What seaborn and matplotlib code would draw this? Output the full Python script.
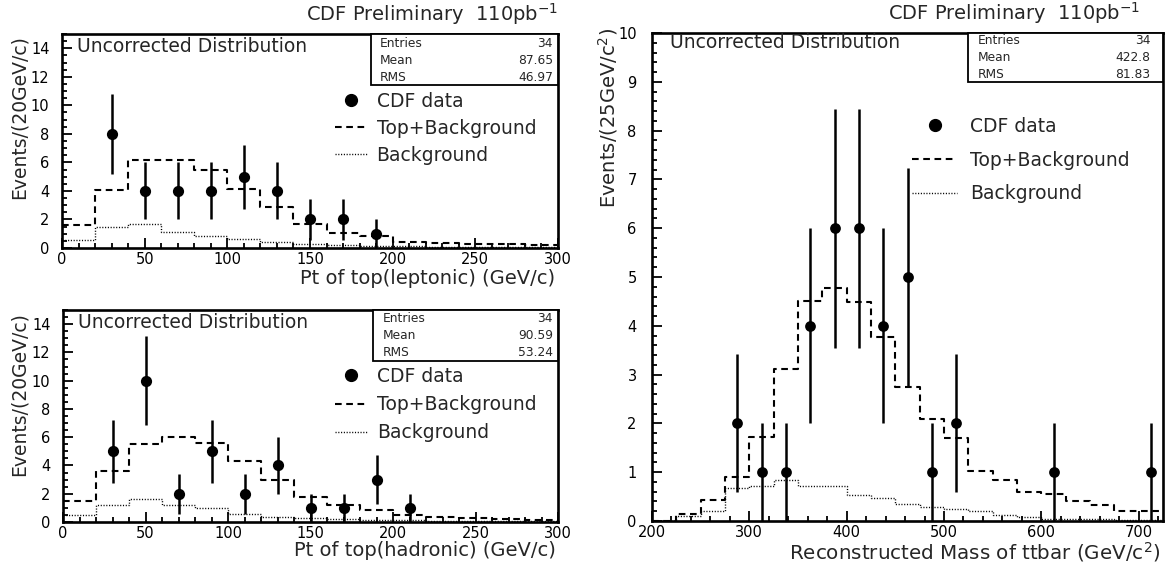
import numpy as np
import pandas as pd
import matplotlib
matplotlib.use("Agg")
import matplotlib.pyplot as plt
from matplotlib.lines import Line2D
from matplotlib.patches import Rectangle
from matplotlib.ticker import MultipleLocator
import seaborn as sns

# ---- Pt of top, leptonic side (20 GeV/c bins from 0 to 300) ----
pt_edges = list(range(0, 320, 20))
lep_centers = [30, 50, 70, 90, 110, 130, 150, 170, 190]
lep_counts = [8, 4, 4, 4, 5, 4, 2, 2, 1]
lep_total = [1.6, 4.05, 6.15, 6.15, 5.45, 4.15, 2.9, 1.65, 1.05, 0.85,
             0.4, 0.35, 0.3, 0.25, 0.2]
lep_bkg = [0.55, 1.45, 1.65, 1.15, 0.85, 0.6, 0.4, 0.28, 0.2, 0.15,
           0.12, 0.1, 0.08, 0.06, 0.05]
lep_stats = ["34", "87.65", "46.97"]

# ---- Pt of top, hadronic side ----
had_centers = [30, 50, 70, 90, 110, 130, 150, 170, 190, 210]
had_counts = [5, 10, 2, 5, 2, 4, 1, 1, 3, 1]
had_total = [1.5, 3.6, 5.55, 6.0, 5.6, 4.35, 3.0, 1.8, 1.2, 0.82,
             0.5, 0.35, 0.28, 0.2, 0.15]
had_bkg = [0.47, 1.18, 1.6, 1.22, 1.0, 0.6, 0.35, 0.25, 0.2, 0.15,
           0.12, 0.1, 0.08, 0.06, 0.05]
had_stats = ["34", "90.59", "53.24"]

# ---- Reconstructed ttbar mass (25 GeV/c^2 bins from 200 to 725) ----
mass_edges = list(range(200, 750, 25))
mass_centers = [287.5, 312.5, 337.5, 362.5, 387.5, 412.5, 437.5, 462.5,
                487.5, 512.5, 612.5, 712.5]
mass_counts = [2, 1, 1, 4, 6, 6, 4, 5, 1, 2, 1, 1]
mass_total = [0.0, 0.15, 0.43, 0.9, 1.73, 3.12, 4.5, 4.77, 4.48, 3.77, 2.75,
              2.1, 1.7, 1.03, 0.85, 0.6, 0.55, 0.4, 0.33, 0.2, 0.2]
mass_bkg = [0.0, 0.1, 0.2, 0.68, 0.72, 0.84, 0.71, 0.72, 0.54, 0.48, 0.35,
            0.28, 0.25, 0.2, 0.12, 0.08, 0.05, 0.05, 0.04, 0.03, 0.03]
mass_stats = ["34", "422.8", "81.83"]

stat_names = ["Entries", "Mean", "RMS"]
legend_labels = ["CDF data", "Top+Background", "Background"]

sns.set_theme(style="ticks")
plt.rcParams["font.family"] = ["DejaVu Sans"]
plt.rcParams["mathtext.fontset"] = "dejavusans"

DASH = (0, (3.2, 2.2))
DOT = (0, (0.8, 1.2))
FS = 13.5

fig = plt.figure(figsize=(11.65, 5.67), dpi=100)
W, H = 1165, 567


def axes_px(x0, y0, x1, y1):
    return fig.add_axes([x0 / W, 1 - y1 / H, (x1 - x0) / W, (y1 - y0) / H])


ax_lep = axes_px(62, 34, 558, 248)
ax_had = axes_px(63, 310, 558, 522)
ax_mass = axes_px(652, 33, 1163, 521)


def draw_hist(ax, edges, total, bkg, centers, counts, msize):
    e = np.asarray(edges, dtype=float)
    mids = (e[:-1] + e[1:]) / 2
    frame = pd.DataFrame({"mid": mids, "total": total, "bkg": bkg})
    sns.histplot(data=frame, x="mid", weights="total", bins=edges,
                 element="step", fill=False, color="black", linestyle=DASH,
                 linewidth=1.5, ax=ax)
    sns.histplot(data=frame, x="mid", weights="bkg", bins=edges,
                 element="step", fill=False, color="black", linestyle=DOT,
                 linewidth=1.0, ax=ax)
    counts = np.asarray(counts, dtype=float)
    ax.errorbar(centers, counts, yerr=np.sqrt(counts), fmt="none",
                ecolor="black", elinewidth=1.8, capsize=0, zorder=3)
    sns.scatterplot(x=centers, y=counts, s=msize, color="black",
                    edgecolor="black", linewidth=0, ax=ax, zorder=4)


def style_axes(ax, xlim, ylim, xmaj, xmin, ymaj, ymin, ypad):
    ax.set_xlim(*xlim)
    ax.set_ylim(*ylim)
    ax.xaxis.set_major_locator(MultipleLocator(xmaj))
    ax.xaxis.set_minor_locator(MultipleLocator(xmin))
    ax.yaxis.set_major_locator(MultipleLocator(ymaj))
    ax.yaxis.set_minor_locator(MultipleLocator(ymin))
    ax.tick_params(which="both", direction="in", top=False, right=False,
                   colors="black", labelsize=10.5, width=1.3)
    ax.tick_params(which="major", length=7)
    ax.tick_params(which="minor", length=3.5)
    ax.tick_params(axis="x", pad=3)
    ax.tick_params(axis="y", pad=ypad)
    for sp in ax.spines.values():
        sp.set_visible(True)
        sp.set_linewidth(1.9)
        sp.set_color("black")
    ax.set_facecolor("white")


def stats_box(ax, x0, y0, values, fs, lx, rx, rows):
    ax.add_patch(Rectangle((x0, y0), 1 - x0, 1 - y0, transform=ax.transAxes,
                           facecolor="white", edgecolor="black", lw=1.3,
                           zorder=5, clip_on=False))
    for name, val, yy in zip(stat_names, values, rows):
        ax.text(lx, yy, name, transform=ax.transAxes, fontsize=fs,
                ha="left", va="center", zorder=6)
        ax.text(rx, yy, val, transform=ax.transAxes, fontsize=fs,
                ha="right", va="center", zorder=6)


def add_legend(ax, anchor, fs, hlen, tpad, spacing, msize):
    handles = [
        Line2D([], [], marker="o", ls="none", color="black", markersize=msize),
        Line2D([], [], ls=DASH, color="black", lw=1.5),
        Line2D([], [], ls=DOT, color="black", lw=1.0),
    ]
    ax.legend(handles, legend_labels, loc="upper left", bbox_to_anchor=anchor,
              frameon=False, fontsize=fs, handlelength=hlen,
              handletextpad=tpad, labelspacing=spacing, borderpad=0,
              borderaxespad=0)


# Leptonic Pt panel
draw_hist(ax_lep, pt_edges, lep_total, lep_bkg, lep_centers, lep_counts, 65)
style_axes(ax_lep, (0, 300), (0, 15), 50, 10, 2, 0.5, 9)
ax_lep.text(0.03, 0.94, "Uncorrected Distribution", transform=ax_lep.transAxes,
            fontsize=FS, ha="left", va="center")
stats_box(ax_lep, 0.622, 0.76, lep_stats, 8.8, 0.64, 0.99, [0.955, 0.875, 0.795])
add_legend(ax_lep, (0.55, 0.731), FS, 1.7, 0.53, 0.43, 8.5)
ax_lep.set_xlabel("Pt of top(leptonic) (GeV/c)", fontsize=14, loc="right")
ax_lep.set_ylabel("Events/(20GeV/c)", fontsize=FS, loc="top")
ax_lep.xaxis.set_label_coords(0.995, -0.098)
ax_lep.yaxis.set_label_coords(-0.068, 0.995)

# Hadronic Pt panel
draw_hist(ax_had, pt_edges, had_total, had_bkg, had_centers, had_counts, 65)
style_axes(ax_had, (0, 300), (0, 15), 50, 10, 2, 0.5, 9)
ax_had.text(0.03, 0.94, "Uncorrected Distribution", transform=ax_had.transAxes,
            fontsize=FS, ha="left", va="center")
stats_box(ax_had, 0.626, 0.76, had_stats, 8.8, 0.645, 0.99, [0.96, 0.88, 0.80])
add_legend(ax_had, (0.55, 0.731), FS, 1.7, 0.53, 0.49, 8.5)
ax_had.set_xlabel("Pt of top(hadronic) (GeV/c)", fontsize=14, loc="right")
ax_had.set_ylabel("Events/(20GeV/c)", fontsize=FS, loc="top")
ax_had.xaxis.set_label_coords(0.995, -0.09)
ax_had.yaxis.set_label_coords(-0.07, 0.99)

# Mass panel
draw_hist(ax_mass, mass_edges, mass_total, mass_bkg, mass_centers, mass_counts, 60)
style_axes(ax_mass, (200, 725), (0, 10), 100, 20, 1, 0.2, 11)
ax_mass.text(0.035, 0.98, "Uncorrected Distribution", transform=ax_mass.transAxes,
             fontsize=FS, ha="left", va="center")
stats_box(ax_mass, 0.618, 0.9, mass_stats, 8.8, 0.638, 0.975, [0.985, 0.95, 0.915])
add_legend(ax_mass, (0.509, 0.828), FS, 2.4, 0.7, 0.78, 8.5)
ax_mass.set_xlabel("Reconstructed Mass of ttbar (GeV/c$^{2}$)", fontsize=14.3,
                   loc="right")
ax_mass.set_ylabel("Events/(25GeV/c$^{2}$)", fontsize=14, loc="top")
ax_mass.xaxis.set_label_coords(0.995, -0.04)
ax_mass.yaxis.set_label_coords(-0.062, 1.01)

fig.text(558 / W, 1 - 14 / H, "CDF Preliminary  110pb$^{-1}$", fontsize=14,
         ha="right", va="center")
fig.text(1140 / W, 1 - 13 / H, "CDF Preliminary  110pb$^{-1}$", fontsize=14,
         ha="right", va="center")

fig.savefig("out.png", dpi=100, facecolor="white")
